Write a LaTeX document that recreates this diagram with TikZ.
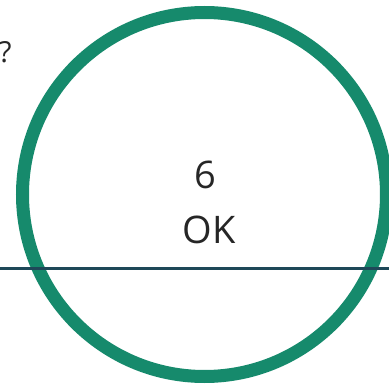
\documentclass[tikz,border=0pt]{standalone}
\usepackage{fontspec}
\setmainfont{Open Sans}
\definecolor{ringgreen}{RGB}{22,138,108}
\definecolor{linedark}{RGB}{30,72,88}
\begin{document}
\begin{tikzpicture}[x=1pt,y=1pt,
  lbl/.style={font=\fontsize{38}{40}\selectfont, text=black!85, inner sep=0pt, anchor=base}]
\useasboundingbox (0,0) rectangle (389,392);
\clip (0,0) rectangle (389,392);
\node[draw=ringgreen, line width=13pt, circle, minimum size=364pt, inner sep=0pt] (ring) at (204.5,197.5) {};
\node[lbl] (num) at (205,204) {6};
\node[lbl] (ok) at (209,148) {OK};
\node[font=\fontsize{29}{31}\selectfont, text=black!85, inner sep=0pt, anchor=base west] (q) at (-1,329) {?};
\coordinate (la) at (0,123);
\coordinate (lb) at (389,123);
\draw[linedark, line width=3pt] (la) -- (lb);
\end{tikzpicture}
\end{document}
